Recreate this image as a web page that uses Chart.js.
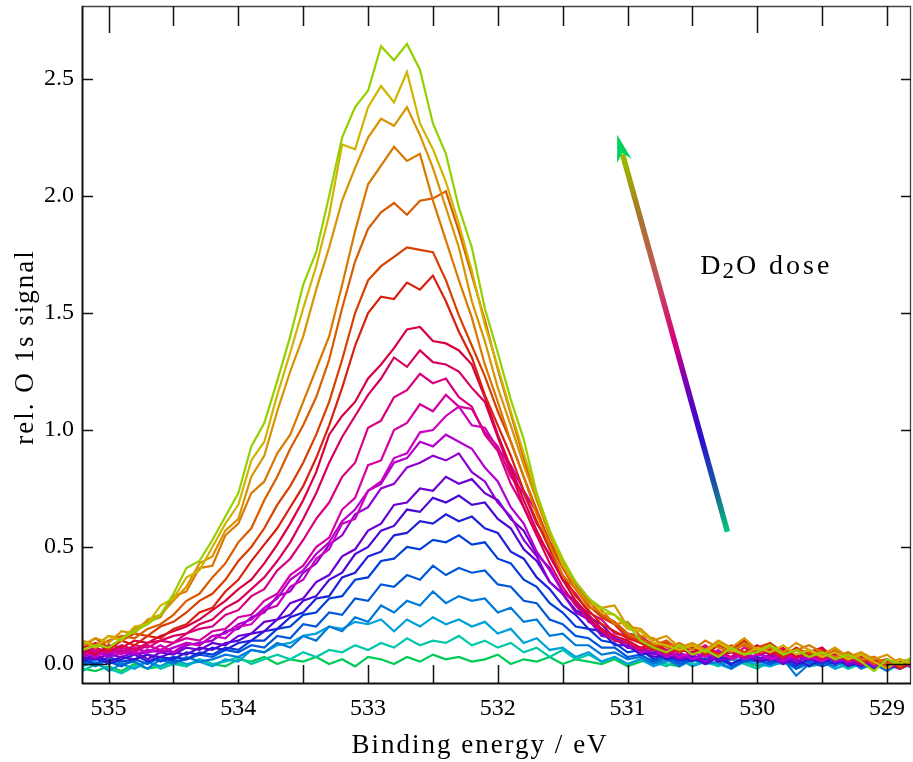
<!DOCTYPE html>
<html><head><meta charset="utf-8">
<script src="https://cdn.jsdelivr.net/npm/chart.js@4.4.1/dist/chart.umd.min.js"></script>
<style>html,body{margin:0;padding:0;background:#fff}#wrap{width:913px;height:762px}</style>
</head><body><div id="wrap"><canvas id="c" width="913" height="762"></canvas></div>
<script>
// Binding energies (eV), shared by all spectra
const energies = [535.2,535.1,535.0,534.9,534.8,534.7,534.6,534.5,534.4,534.3,534.2,534.1,534.0,533.9,533.8,533.7,533.6,533.5,533.4,533.3,533.2,533.1,533.0,532.9,532.8,532.7,532.6,532.5,532.4,532.3,532.2,532.1,532.0,531.9,531.8,531.7,531.6,531.5,531.4,531.3,531.2,531.1,531.0,530.9,530.8,530.7,530.6,530.5,530.4,530.3,530.2,530.1,530.0,529.9,529.8,529.7,529.6,529.5,529.4,529.3,529.2,529.1,529.0,528.9,528.8];
const xTickValues = [535,534,533,532,531,530,529];
const yTickValues = [0,0.5,1.0,1.5,2.0,2.5];
const xMinorTickValues = [529,529.5,530,530.5,531,531.5,532,532.5,533,533.5,534,534.5,535];
const xMajorTickValues = [530,535];
const yMinorTickValues = [0.5,1.0,1.5,2.0,2.5];
const yMajorTickValues = [0];

// O 1s spectra, lowest dose (s00) to highest dose (s22)
const s00 = [-0.02,-0.03,-0.01,-0.03,0.00,-0.02,-0.01,0.01,-0.01,0.02, 0.00,-0.01,0.02,0.01,0.03,0.00,0.02,0.01,0.03,0.00, 0.02,-0.01,0.03,0.02,0.00,0.03,0.01,0.04,0.02,0.03, 0.01,0.02,0.04,0.00,0.02,0.01,0.03,0.00,0.02,0.01, 0.00,0.02,-0.01,0.01,0.02,0.00,-0.01,0.02,0.01,0.00, 0.02,0.01,-0.01,0.00,0.02,0.01,-0.01,0.00,0.02,-0.02, 0.01,0.00,-0.01,0.01,0.00];
const s01 = [-0.03,0.00,-0.02,-0.04,-0.01,0.01,-0.02,0.00,-0.01,0.02, 0.00,0.01,0.03,0.00,0.02,0.04,0.02,0.05,0.03,0.06, 0.05,0.08,0.06,0.09,0.07,0.11,0.08,0.10,0.09,0.12, 0.08,0.10,0.07,0.09,0.05,0.07,0.03,0.06,0.02,0.04, 0.01,0.03,0.00,0.02,0.01,-0.01,0.02,0.00,0.01,-0.01, 0.02,0.00,-0.02,0.01,0.00,0.02,-0.01,0.00,0.01,-0.02, 0.00,-0.01,0.01,-0.02,0.00];
const s02 = [-0.01,0.01,-0.03,0.00,-0.02,0.01,-0.01,0.02,0.00,0.01, -0.01,0.02,0.01,0.06,0.05,0.08,0.09,0.12,0.13,0.16, 0.15,0.18,0.17,0.19,0.14,0.19,0.16,0.20,0.17,0.19, 0.16,0.18,0.13,0.15,0.09,0.11,0.06,0.07,0.03,0.05, 0.01,0.03,0.00,0.02,-0.01,0.01,0.02,-0.01,0.01,0.00, -0.02,0.01,0.00,-0.01,0.01,-0.02,0.00,0.01,-0.02,0.00, -0.01,0.01,-0.03,0.00,-0.01];
const s03 = [0.01,-0.01,0.02,0.00,0.01,-0.02,0.02,0.00,0.03,0.01, 0.02,0.04,0.03,0.06,0.05,0.09,0.07,0.12,0.10,0.16, 0.14,0.20,0.18,0.25,0.22,0.27,0.25,0.31,0.26,0.29, 0.27,0.28,0.22,0.24,0.18,0.19,0.12,0.13,0.08,0.08, 0.04,0.05,0.02,0.03,0.00,0.02,-0.01,0.02,0.00,0.01, -0.02,0.02,0.01,0.00,0.02,-0.05,0.00,0.01,-0.01,0.02, -0.02,0.00,-0.03,0.01,-0.01];
const s04 = [0.00,0.02,0.01,-0.01,0.02,0.00,0.03,0.01,0.02,0.04, 0.03,0.06,0.05,0.08,0.07,0.12,0.11,0.17,0.16,0.22, 0.21,0.28,0.27,0.34,0.33,0.38,0.36,0.42,0.38,0.41, 0.39,0.40,0.34,0.33,0.27,0.26,0.19,0.17,0.12,0.11, 0.07,0.07,0.03,0.04,0.01,0.03,0.00,0.02,0.01,0.03, -0.01,0.01,0.02,0.00,0.02,-0.02,0.01,-0.01,0.01,0.00, 0.02,-0.01,0.00,-0.02,0.01];
const s05 = [0.02,0.00,0.03,0.01,0.02,0.04,0.01,0.03,0.02,0.05, 0.04,0.07,0.06,0.10,0.10,0.15,0.16,0.21,0.22,0.28, 0.29,0.36,0.37,0.44,0.45,0.50,0.49,0.53,0.52,0.55, 0.51,0.52,0.45,0.43,0.36,0.33,0.26,0.22,0.16,0.15, 0.10,0.09,0.05,0.06,0.02,0.04,0.01,0.03,0.02,0.04, 0.00,0.02,0.03,0.01,0.02,-0.01,0.02,0.00,0.03,0.01, -0.01,0.01,-0.02,0.01,0.00];
const s06 = [0.01,0.03,0.00,0.02,0.04,0.01,0.03,0.02,0.05,0.04, 0.07,0.06,0.09,0.10,0.14,0.15,0.20,0.22,0.28,0.29, 0.37,0.39,0.46,0.48,0.55,0.56,0.61,0.60,0.64,0.61, 0.63,0.58,0.56,0.48,0.45,0.37,0.32,0.25,0.21,0.15, 0.14,0.08,0.08,0.04,0.05,0.02,0.03,0.01,0.04,0.02, 0.00,0.03,0.02,0.04,0.01,0.02,-0.01,0.02,0.00,0.03, 0.01,-0.02,0.01,0.00,-0.01];
const s07 = [0.02,0.04,0.01,0.03,0.02,0.04,0.03,0.05,0.04,0.07, 0.06,0.09,0.10,0.13,0.14,0.19,0.21,0.27,0.29,0.36, 0.39,0.47,0.50,0.57,0.59,0.66,0.65,0.71,0.69,0.72, 0.68,0.69,0.62,0.58,0.49,0.44,0.35,0.30,0.23,0.20, 0.13,0.11,0.07,0.06,0.03,0.04,0.02,0.03,0.00,0.03, 0.02,0.04,0.01,0.02,0.03,0.00,0.02,0.01,0.03,-0.01, 0.01,0.00,0.02,-0.01,0.00];
const s08 = [0.03,0.02,0.04,0.03,0.05,0.02,0.05,0.04,0.07,0.06, 0.09,0.08,0.12,0.13,0.18,0.19,0.26,0.28,0.35,0.38, 0.46,0.49,0.57,0.60,0.68,0.69,0.75,0.74,0.80,0.77, 0.79,0.73,0.70,0.62,0.57,0.47,0.41,0.31,0.27,0.20, 0.17,0.11,0.09,0.05,0.06,0.03,0.04,0.02,0.05,0.01, 0.03,0.04,0.02,0.03,0.00,0.03,0.02,0.04,0.01,0.02, -0.01,0.02,0.00,-0.02,0.01];
const s09 = [0.03,0.05,0.04,0.06,0.04,0.05,0.06,0.05,0.08,0.09, 0.10,0.14,0.15,0.20,0.22,0.29,0.31,0.39,0.43,0.51, 0.55,0.64,0.67,0.75,0.77,0.84,0.86,0.89,0.87,0.90, 0.82,0.78,0.69,0.63,0.53,0.46,0.35,0.30,0.22,0.19, 0.12,0.11,0.07,0.07,0.04,0.05,0.02,0.04,0.01,0.04, 0.03,0.05,0.02,0.03,0.04,0.01,0.03,0.02,0.04,0.00, 0.02,0.01,-0.02,0.01,0.00];
const s10 = [0.04,0.05,0.03,0.05,0.04,0.06,0.05,0.07,0.09,0.08, 0.12,0.13,0.17,0.19,0.24,0.28,0.36,0.40,0.47,0.52, 0.61,0.66,0.74,0.77,0.86,0.88,0.95,0.93,0.98,0.95, 0.92,0.84,0.78,0.67,0.60,0.48,0.40,0.31,0.26,0.18, 0.15,0.10,0.09,0.05,0.06,0.03,0.05,0.02,0.04,0.03, 0.05,0.02,0.04,0.03,0.01,0.04,0.02,0.05,0.01,0.03, 0.00,0.02,-0.01,0.01,-0.02];
const s11 = [0.05,0.03,0.06,0.04,0.07,0.05,0.08,0.05,0.09,0.08, 0.12,0.11,0.16,0.17,0.23,0.25,0.33,0.36,0.45,0.49, 0.60,0.62,0.74,0.78,0.88,0.90,0.99,1.00,1.06,1.10, 1.02,1.01,0.92,0.85,0.74,0.65,0.52,0.44,0.34,0.28, 0.20,0.17,0.11,0.10,0.06,0.06,0.03,0.05,0.03,0.06, 0.02,0.04,0.05,0.02,0.04,0.06,0.03,0.01,0.04,0.02, 0.03,-0.01,0.01,0.00,0.02];
const s12 = [0.04,0.06,0.05,0.07,0.05,0.08,0.06,0.09,0.11,0.10, 0.14,0.15,0.20,0.21,0.27,0.30,0.38,0.42,0.50,0.54, 0.66,0.71,0.85,0.87,1.00,1.03,1.11,1.08,1.15,1.10, 1.09,0.99,0.93,0.80,0.73,0.60,0.52,0.42,0.35,0.28, 0.21,0.18,0.13,0.12,0.08,0.09,0.06,0.05,0.07,0.04, 0.06,0.03,0.07,0.04,0.05,0.02,0.06,0.04,0.02,0.04, 0.01,0.02,-0.02,0.01,0.00];
const s13 = [0.06,0.05,0.07,0.05,0.08,0.07,0.10,0.09,0.13,0.15, 0.16,0.21,0.23,0.29,0.32,0.40,0.45,0.53,0.62,0.69, 0.80,0.86,1.01,1.04,1.14,1.17,1.24,1.20,1.22,1.14, 1.10,0.98,0.91,0.77,0.67,0.55,0.47,0.36,0.30,0.22, 0.19,0.13,0.12,0.09,0.09,0.06,0.07,0.04,0.06,0.05, 0.03,0.07,0.04,0.05,0.02,0.06,0.04,0.03,0.05,0.01, 0.03,0.00,0.02,-0.02,0.01];
const s14 = [0.05,0.07,0.05,0.08,0.06,0.09,0.10,0.12,0.13,0.17, 0.19,0.24,0.27,0.32,0.37,0.44,0.52,0.62,0.73,0.86, 0.97,1.06,1.15,1.22,1.31,1.27,1.34,1.29,1.28,1.25, 1.18,1.12,0.97,0.82,0.67,0.55,0.43,0.33,0.25,0.19, 0.14,0.10,0.09,0.06,0.07,0.04,0.06,0.05,0.08,0.04, 0.05,0.03,0.06,0.05,0.07,0.03,0.04,0.02,0.05,0.03, 0.00,0.02,-0.01,0.01,0.02];
const s15 = [0.06,0.04,0.08,0.07,0.10,0.09,0.12,0.14,0.16,0.19, 0.23,0.27,0.32,0.36,0.43,0.51,0.60,0.70,0.82,0.98, 1.06,1.12,1.22,1.28,1.35,1.43,1.44,1.38,1.37,1.34, 1.28,1.14,0.98,0.84,0.70,0.57,0.46,0.36,0.27,0.21, 0.15,0.12,0.10,0.07,0.08,0.05,0.07,0.04,0.06,0.03, 0.07,0.05,0.08,0.04,0.06,0.03,0.05,0.07,0.02,0.04, 0.01,0.03,0.00,0.02,-0.01];
const s16 = [0.07,0.09,0.06,0.10,0.08,0.12,0.11,0.15,0.17,0.22, 0.24,0.31,0.36,0.44,0.51,0.58,0.67,0.76,0.88,1.02, 1.18,1.36,1.50,1.57,1.56,1.63,1.60,1.66,1.55,1.42, 1.31,1.15,1.02,0.89,0.74,0.61,0.49,0.38,0.29,0.23, 0.17,0.14,0.11,0.09,0.06,0.08,0.05,0.07,0.04,0.08, 0.06,0.10,0.05,0.06,0.03,0.07,0.04,0.06,0.03,0.02, 0.04,0.01,0.02,-0.02,0.01];
const s17 = [0.08,0.11,0.07,0.10,0.13,0.12,0.16,0.18,0.22,0.27, 0.30,0.36,0.44,0.50,0.58,0.68,0.76,0.86,0.98,1.12, 1.30,1.50,1.64,1.70,1.74,1.78,1.77,1.76,1.64,1.49, 1.36,1.23,1.08,0.95,0.80,0.66,0.52,0.41,0.32,0.25, 0.20,0.17,0.12,0.10,0.07,0.09,0.05,0.08,0.06,0.04, 0.08,0.05,0.07,0.09,0.05,0.06,0.03,0.05,0.02,0.05, 0.01,0.03,-0.01,0.01,0.02];
const s18 = [0.09,0.07,0.10,0.12,0.11,0.15,0.17,0.21,0.27,0.30, 0.37,0.43,0.52,0.58,0.70,0.80,0.92,1.02,1.14,1.30, 1.52,1.72,1.86,1.93,1.97,1.92,1.98,1.99,2.02,1.85, 1.66,1.47,1.26,1.07,0.88,0.70,0.55,0.43,0.33,0.27, 0.21,0.18,0.13,0.11,0.08,0.10,0.06,0.08,0.05,0.09, 0.06,0.08,0.05,0.07,0.04,0.06,0.05,0.03,0.06,0.02, 0.04,0.00,0.02,-0.01,0.02];
const s19 = [0.10,0.08,0.12,0.11,0.15,0.18,0.20,0.29,0.31,0.41, 0.42,0.55,0.60,0.73,0.78,0.90,0.98,1.12,1.26,1.40, 1.62,1.85,2.05,2.13,2.21,2.15,2.18,1.98,1.81,1.64, 1.48,1.28,1.12,0.95,0.80,0.64,0.51,0.38,0.32,0.24, 0.23,0.17,0.18,0.12,0.11,0.07,0.09,0.06,0.10,0.07, 0.05,0.09,0.06,0.07,0.04,0.06,0.08,0.05,0.03,0.05, 0.02,0.03,0.00,0.02,-0.01];
const s20 = [0.08,0.11,0.09,0.14,0.13,0.19,0.21,0.27,0.33,0.43, 0.46,0.57,0.62,0.80,0.89,1.08,1.25,1.40,1.60,1.78, 1.98,2.12,2.25,2.33,2.30,2.38,2.26,2.12,1.95,1.78, 1.55,1.38,1.18,1.02,0.85,0.70,0.55,0.42,0.33,0.26, 0.24,0.25,0.16,0.15,0.10,0.12,0.07,0.09,0.06,0.10, 0.07,0.11,0.06,0.08,0.05,0.09,0.06,0.04,0.07,0.03, 0.05,0.02,0.04,0.00,0.03];
const s21 = [0.10,0.07,0.12,0.10,0.16,0.17,0.25,0.28,0.37,0.40, 0.50,0.60,0.68,0.87,0.95,1.15,1.33,1.52,1.70,1.92, 2.22,2.20,2.38,2.47,2.40,2.53,2.31,2.20,2.06,1.88, 1.68,1.45,1.27,1.08,0.90,0.72,0.57,0.43,0.35,0.28, 0.22,0.21,0.15,0.14,0.09,0.08,0.06,0.08,0.05,0.09, 0.06,0.04,0.07,0.05,0.08,0.04,0.06,0.03,0.05,0.02, 0.04,0.01,-0.02,0.02,0.00];
const s22 = [0.06,0.08,0.07,0.11,0.14,0.17,0.21,0.30,0.41,0.44, 0.53,0.63,0.73,0.93,1.03,1.21,1.40,1.62,1.76,2.00, 2.25,2.38,2.45,2.64,2.58,2.65,2.54,2.31,2.18,1.95, 1.78,1.52,1.33,1.13,0.96,0.73,0.57,0.45,0.35,0.28, 0.24,0.21,0.17,0.10,0.07,0.05,0.08,0.04,0.06,0.03, 0.07,0.04,0.05,0.08,0.04,0.06,0.03,0.05,0.02,0.04, 0.01,-0.03,0.02,0.00,0.03];

const seriesValues = [s00,s01,s02,s03,s04,s05,s06,s07,s08,s09,s10,s11,s12,s13,s14,s15,s16,s17,s18,s19,s20,s21,s22];
const seriesColors = ['#00cc55','#00c8a8','#00a0d8','#0078d8','#0058d8','#0040d8','#2020d8','#4a08d4','#6c00d0','#9000d0','#b400d0','#cc00c0','#d400a0','#d80080','#d80060','#d80040','#d82010','#d84000','#d85c00','#d87800','#d89400','#d0b400','#94d000'];

// Annotation (arrow + label), in data units
const arrowTail = {x: 530.23, y: 0.565};
const arrowTip = {x: 531.08, y: 2.262};
const doseLabelPos = {x: 530.44, y: 1.665};

const SERIF = "'Liberation Serif', 'Times New Roman', serif";

const datasets = seriesValues.map((vals, i) => ({
  label: 'D2O dose ' + (i + 1),
  data: energies.map((e, k) => ({x: e, y: vals[k]})),
  borderColor: seriesColors[i],
  backgroundColor: seriesColors[i],
  borderWidth: 2.2,
  pointRadius: 0,
  tension: 0,
  fill: false,
  order: seriesValues.length - 1 - i
}));

const framePlugin = {
  id: 'frameTicks',
  afterDatasetsDraw(chart) {
    const ctx = chart.ctx, a = chart.chartArea;
    const xs = chart.scales.x, ys = chart.scales.y;
    ctx.save();
    // frame
    ctx.strokeStyle = '#444'; ctx.lineWidth = 1.3;
    ctx.beginPath();
    ctx.moveTo(a.left, a.top + 0.5); ctx.lineTo(a.right, a.top + 0.5);
    ctx.moveTo(a.right - 0.5, a.top); ctx.lineTo(a.right - 0.5, a.bottom);
    ctx.stroke();
    ctx.strokeStyle = '#111'; ctx.lineWidth = 2;
    ctx.beginPath();
    ctx.moveTo(a.left + 0.5, a.top); ctx.lineTo(a.left + 0.5, a.bottom);
    ctx.moveTo(a.left, a.bottom - 0.5); ctx.lineTo(a.right, a.bottom - 0.5);
    ctx.stroke();
    // ticks
    ctx.strokeStyle = '#111'; ctx.lineWidth = 1.5;
    ctx.beginPath();
    xMinorTickValues.forEach(v => {
      const p = Math.round(xs.getPixelForValue(v)) + 0.5;
      const major = xMajorTickValues.includes(v);
      const lb = major ? 25 : 19, lt = major ? 27 : 20;
      ctx.moveTo(p, a.bottom); ctx.lineTo(p, a.bottom - lb);
      ctx.moveTo(p, a.top); ctx.lineTo(p, a.top + lt);
    });
    yMinorTickValues.concat(yMajorTickValues).forEach(v => {
      const p = Math.round(ys.getPixelForValue(v)) + 0.5;
      const major = yMajorTickValues.includes(v);
      const l = major ? 25 : 11;
      ctx.moveTo(a.left, p); ctx.lineTo(a.left + l, p);
      ctx.moveTo(a.right, p); ctx.lineTo(a.right - (major ? 25 : 10), p);
    });
    ctx.stroke();

    // gradient arrow
    const tx = xs.getPixelForValue(arrowTail.x), ty = ys.getPixelForValue(arrowTail.y);
    const hx = xs.getPixelForValue(arrowTip.x), hy = ys.getPixelForValue(arrowTip.y);
    const dx = hx - tx, dy = hy - ty, len = Math.hypot(dx, dy);
    const ux = dx / len, uy = dy / len, nx = -uy, ny = ux;
    const g = ctx.createLinearGradient(tx, ty, hx, hy);
    g.addColorStop(0.0, '#00c878');
    g.addColorStop(0.11, '#1a5aa0');
    g.addColorStop(0.23, '#2a10d0');
    g.addColorStop(0.37, '#7400b8');
    g.addColorStop(0.48, '#d8007e');
    g.addColorStop(0.63, '#c0505a');
    g.addColorStop(0.80, '#a8782c');
    g.addColorStop(0.92, '#9cb400');
    g.addColorStop(1.0, '#8cc000');
    ctx.strokeStyle = g; ctx.lineWidth = 5.5; ctx.lineCap = 'butt';
    ctx.beginPath();
    ctx.moveTo(tx, ty); ctx.lineTo(hx - ux * 20, hy - uy * 20);
    ctx.stroke();
    ctx.fillStyle = '#00d060';
    ctx.beginPath();
    ctx.moveTo(hx, hy);
    ctx.lineTo(hx - ux * 27 + nx * 7.5, hy - uy * 27 + ny * 7.5);
    ctx.lineTo(hx - ux * 19, hy - uy * 19);
    ctx.lineTo(hx - ux * 27 - nx * 7.5, hy - uy * 27 - ny * 7.5);
    ctx.closePath();
    ctx.fill();

    // label "D2O dose" with subscript
    let lx = xs.getPixelForValue(doseLabelPos.x);
    const ly = ys.getPixelForValue(doseLabelPos.y);
    ctx.fillStyle = '#000';
    ctx.textBaseline = 'alphabetic'; ctx.textAlign = 'left';
    ctx.font = '28px ' + SERIF;
    ctx.fillText('D', lx, ly); lx += ctx.measureText('D').width + 2;
    ctx.font = '23px ' + SERIF;
    ctx.fillText('2', lx, ly + 4); lx += ctx.measureText('2').width + 2;
    ctx.font = '28px ' + SERIF;
    ctx.fillText('O', lx, ly); lx += ctx.measureText('O').width + 13;
    try { ctx.letterSpacing = '3px'; } catch (e) {}
    ctx.fillText('dose', lx, ly);

    // axis titles
    ctx.font = '27px ' + SERIF;
    try { ctx.letterSpacing = '2px'; } catch (e) {}
    ctx.textAlign = 'center';
    ctx.fillText('Binding energy / eV', 480, 753);
    ctx.translate(33, 347);
    ctx.rotate(-Math.PI / 2);
    ctx.fillText('rel. O 1s signal', 0, 0);
    ctx.restore();
  }
};

function noEdgePadding(s) {
  s.paddingTop = 0; s.paddingBottom = 0; s.paddingLeft = 0; s.paddingRight = 0;
}

new Chart(document.getElementById('c'), {
  type: 'line',
  data: { datasets },
  options: {
    responsive: false,
    animation: false,
    devicePixelRatio: 1,
    layout: { padding: { left: 0, right: 2, top: 6, bottom: 0 } },
    plugins: { legend: { display: false }, tooltip: { enabled: false }, title: { display: false } },
    scales: {
      x: {
        type: 'linear', reverse: true, min: 528.815, max: 535.205,
        afterBuildTicks: s => { s.ticks = xTickValues.map(v => ({ value: v })); },
        afterFit: s => { s.height = 78; noEdgePadding(s); },
        grid: { display: false, drawTicks: false },
        border: { display: false },
        ticks: { color: '#000', padding: 10, maxRotation: 0, autoSkip: false,
          font: { family: SERIF, size: 24 }, callback: v => String(Math.round(v)) }
      },
      y: {
        type: 'linear', min: -0.0855, max: 2.812,
        afterBuildTicks: s => { s.ticks = yTickValues.map(v => ({ value: v })); },
        afterFit: s => { s.width = 82; noEdgePadding(s); },
        grid: { display: false, drawTicks: false },
        border: { display: false },
        ticks: { color: '#000', padding: 8, autoSkip: false,
          font: { family: SERIF, size: 24 }, callback: v => Number(v).toFixed(1) }
      }
    }
  },
  plugins: [framePlugin]
});
</script>
</body></html>
